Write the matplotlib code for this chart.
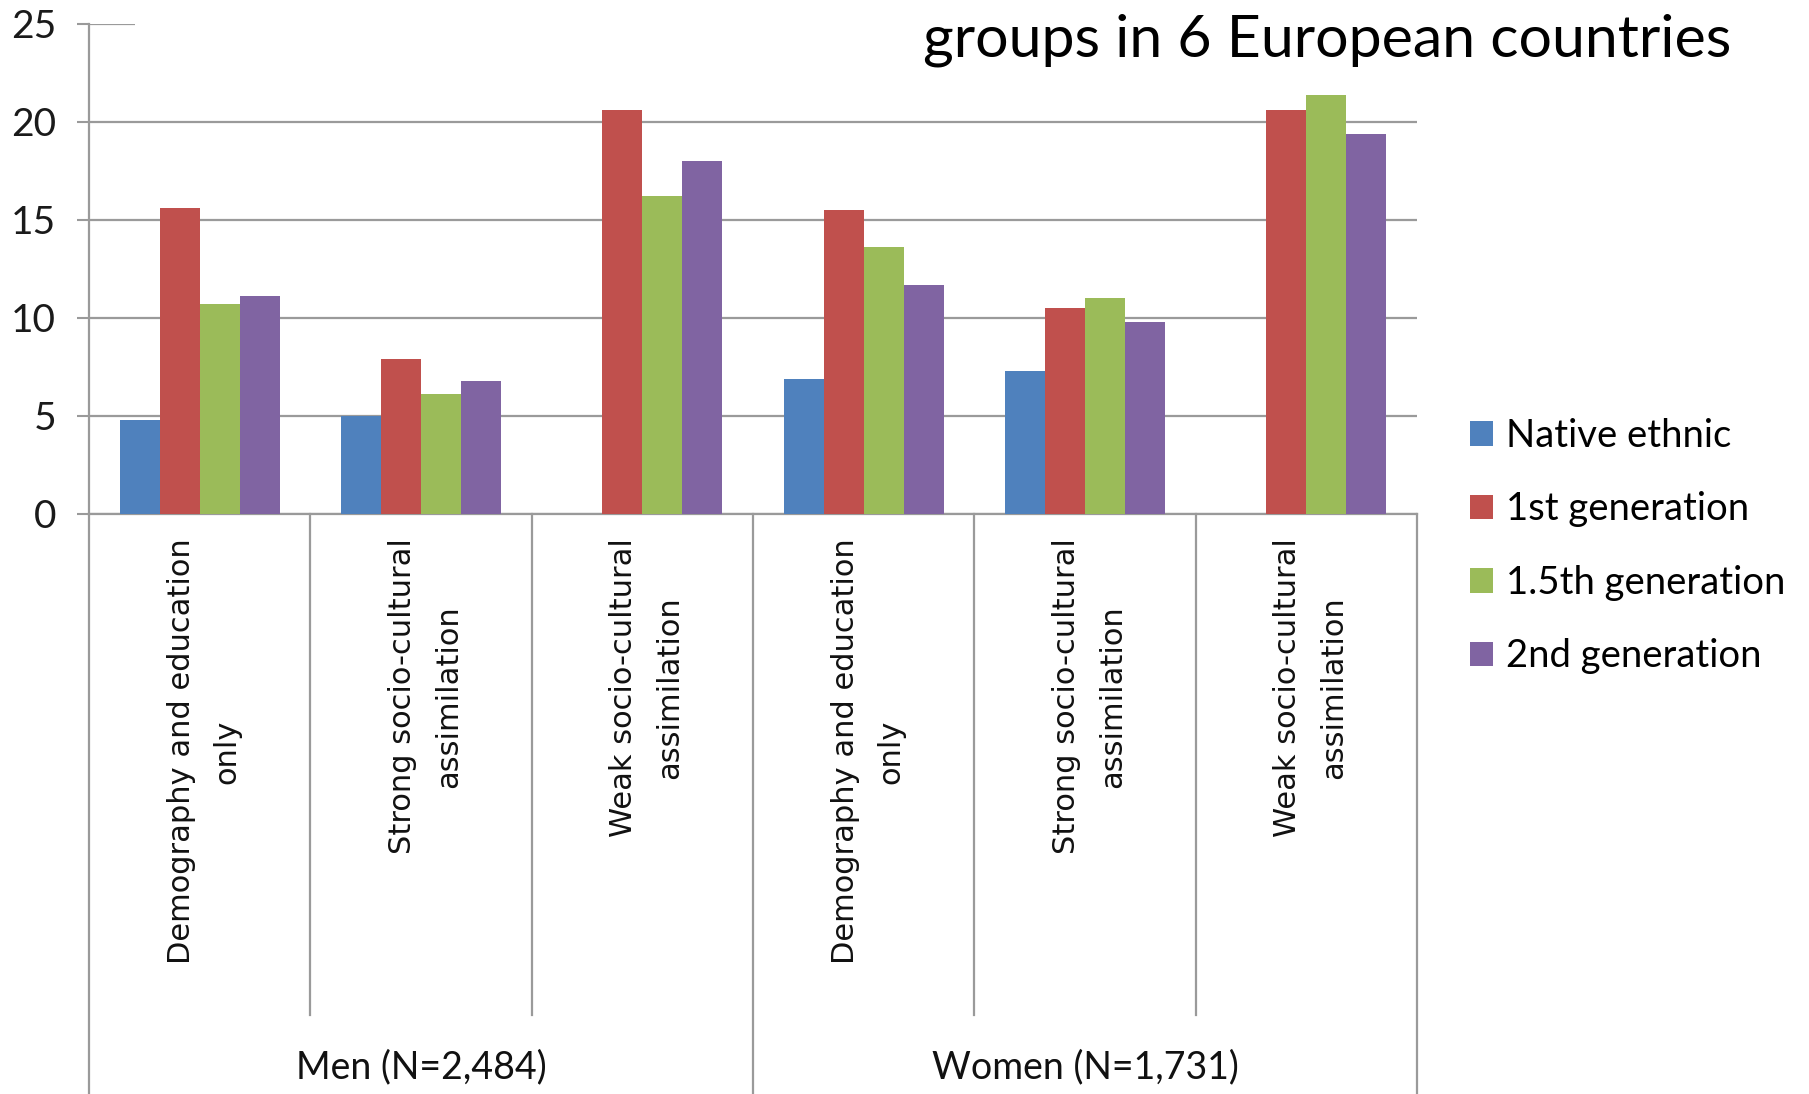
import numpy as np
import matplotlib
matplotlib.use("Agg")
import matplotlib.pyplot as plt
from matplotlib.patches import Rectangle
from matplotlib.transforms import blended_transform_factory

# ---- data -------------------------------------------------------------
categories = [
    "Demography and education\nonly",
    "Strong socio-cultural\nassimilation",
    "Weak socio-cultural\nassimilation",
    "Demography and education\nonly",
    "Strong socio-cultural\nassimilation",
    "Weak socio-cultural\nassimilation",
]
groups = ["Men (N=2,484)", "Women (N=1,731)"]
series_names = ["Native ethnic", "1st generation", "1.5th generation", "2nd generation"]

native_ethnic = [4.8, 5.0, 0.0, 6.9, 7.3, 0.0]
first_gen = [15.6, 7.9, 20.6, 15.5, 10.5, 20.6]
one_half_gen = [10.7, 6.1, 16.2, 13.6, 11.0, 21.4]
second_gen = [11.1, 6.8, 18.0, 11.7, 9.8, 19.4]

y_ticks = [0, 5, 10, 15, 20, 25]
title_text = "groups in 6 European countries"

colors = ["#4F81BD", "#C0504D", "#9BBB59", "#8064A2"]
grid_color = "#9a9a9a"
label_font = "Lato"
cat_font = "DejaVu Sans"

# ---- figure -----------------------------------------------------------
fig = plt.figure(figsize=(18.09, 10.94), dpi=100)
ax = fig.add_axes([0.0492, 0.5302, 0.7341, 0.4479])

x = np.arange(len(categories))
width = 0.181
series = [native_ethnic, first_gen, one_half_gen, second_gen]
handles = []
for i, (vals, col, name) in enumerate(zip(series, colors, series_names)):
    b = ax.bar(x + (i - 1.5) * width, vals, width=width, color=col,
               label=name, zorder=3, linewidth=0)
    handles.append(b)

ax.set_xlim(-0.5, len(categories) - 0.5)
ax.set_ylim(0, 25)
ax.set_yticks(y_ticks)
ax.set_yticklabels([str(t) for t in y_ticks], fontsize=28, family=label_font,
                   color="#1a1a1a")
ax.tick_params(axis="y", length=8.6, width=1.5, color=grid_color, pad=15)
ax.set_xticks([])
ax.yaxis.grid(True, color=grid_color, linewidth=1.6, zorder=0)
for side in ["top", "right"]:
    ax.spines[side].set_visible(False)
for side in ["left", "bottom"]:
    ax.spines[side].set_color(grid_color)
    ax.spines[side].set_linewidth(1.6)

# category separators below the axis
trans = blended_transform_factory(ax.transData, ax.transAxes)
for k in range(len(categories) + 1):
    xs = k - 0.5
    outer = k in (0, 3, 6)
    y_end = -1.2 if outer else -1.022
    ax.plot([xs, xs], [0, y_end], transform=trans, color=grid_color,
            linewidth=1.6, clip_on=False, zorder=1)

# rotated category labels
for xi, lab in zip(x, categories):
    ax.text(xi + 0.02, -0.05, lab, transform=trans, rotation=90,
            ha="center", va="top", multialignment="center",
            fontsize=22, family=cat_font, linespacing=1.72,
            color="#111111")

# group labels
for gi, g in enumerate(groups):
    ax.text(gi * 3 + 1, -1.129, g, transform=trans, ha="center",
            va="center", fontsize=27, family=label_font, color="#111111")

# title band across the top
fig.patches.append(Rectangle((135 / 1809, 1 - 80 / 1094), (1760 - 135) / 1809,
                             80 / 1094, transform=fig.transFigure,
                             facecolor="white", edgecolor="none", zorder=5))
fig.text(1731 / 1809, 1 - 40 / 1094, title_text, ha="right", va="center",
         fontsize=42.5, family=label_font, color="black", zorder=6)

# legend
fig.legend(handles=handles, labels=series_names, loc="upper left",
           bbox_to_anchor=(1470 / 1809, 1 - 418 / 1094), frameon=False,
           prop={"family": label_font, "size": 27.5},
           handlelength=0.6, handleheight=0.6, handletextpad=0.35,
           labelspacing=0.98, borderaxespad=0, borderpad=0)

fig.savefig("out.png", dpi=100, facecolor="white")
